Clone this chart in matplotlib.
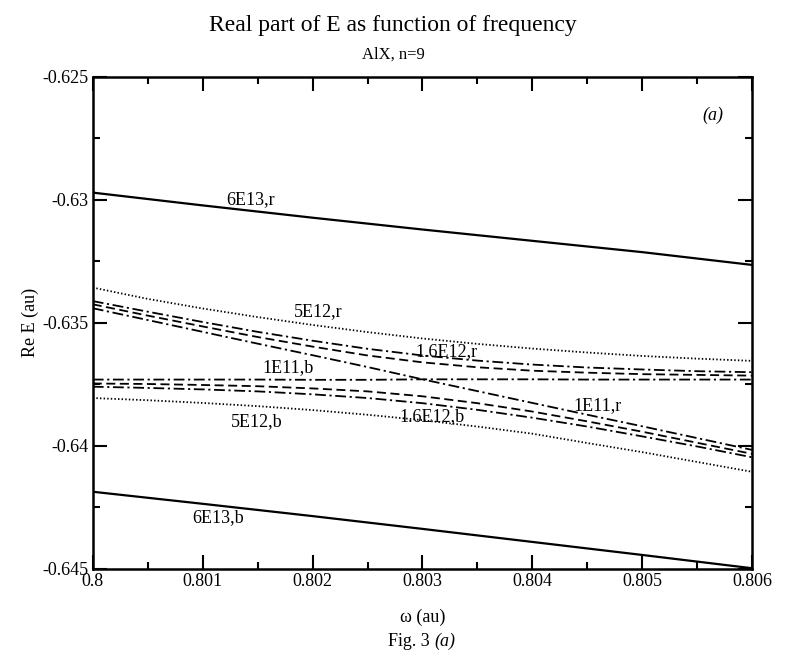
import matplotlib
matplotlib.use("Agg")
import matplotlib.pyplot as plt
from matplotlib.ticker import MultipleLocator, FuncFormatter

plt.rcParams["font.family"] = ["Liberation Serif", "DejaVu Serif"]
plt.rcParams["axes.unicode_minus"] = False

# frequency grids (au)
omega_coarse = [0.800, 0.801, 0.802, 0.803, 0.804, 0.805, 0.806]
omega_fine = [0.8000, 0.8005, 0.8010, 0.8015, 0.8020, 0.8025, 0.8030,
              0.8035, 0.8040, 0.8045, 0.8050, 0.8055, 0.8060]

# Re E (au)
e_6e13_r = [-0.62970, -0.63022, -0.63072, -0.63120, -0.63166, -0.63212, -0.63264]
e_6e13_b = [-0.64186, -0.64235, -0.64285, -0.64337, -0.64390, -0.64443, -0.64497]

e_5e12_r = [-0.63356, -0.63402, -0.63441, -0.63476, -0.63508, -0.63537, -0.63563,
            -0.63585, -0.63604, -0.63620, -0.63634, -0.63645, -0.63654]
e_5e12_b = [-0.63805, -0.63814, -0.63825, -0.63838, -0.63854, -0.63873, -0.63895,
            -0.63921, -0.63950, -0.63988, -0.64025, -0.64065, -0.64105]

e_16e12_r = [-0.63411, -0.63454, -0.63496, -0.63536, -0.63572, -0.63605, -0.63632,
             -0.63653, -0.63669, -0.63681, -0.63689, -0.63696, -0.63700]
e_16e12_b = [-0.63759, -0.63764, -0.63770, -0.63778, -0.63790, -0.63805, -0.63826,
             -0.63853, -0.63885, -0.63921, -0.63961, -0.64002, -0.64046]

e_mid_r = [-0.63424, -0.63470, -0.63514, -0.63557, -0.63596, -0.63632, -0.63660,
           -0.63680, -0.63694, -0.63702, -0.63708, -0.63711, -0.63714]
e_mid_b = [-0.63746, -0.63748, -0.63752, -0.63757, -0.63766, -0.63778, -0.63798,
           -0.63826, -0.63860, -0.63900, -0.63942, -0.63987, -0.64032]

e_1e11_r = [-0.63440, -0.63488, -0.63536, -0.63584, -0.63631, -0.63679, -0.63729,
            -0.63777, -0.63825, -0.63873, -0.63920, -0.63968, -0.64016]
e_1e11_b = [-0.63730, -0.63730, -0.63730, -0.63730, -0.63731, -0.63731, -0.63729,
            -0.63729, -0.63729, -0.63730, -0.63730, -0.63730, -0.63730]

# curve labels: text, omega, Re E
curve_labels = [("6E13,r", 0.80144, -0.63000),
                ("5E12,r", 0.80205, -0.63453),
                ("1.6E12,r", 0.80322, -0.63616),
                ("1E11,b", 0.80178, -0.63681),
                ("1E11,r", 0.80459, -0.63835),
                ("5E12,b", 0.80149, -0.63900),
                ("1.6E12,b", 0.80309, -0.63879),
                ("6E13,b", 0.80114, -0.64291)]

fig = plt.figure(figsize=(7.86, 6.62), dpi=100)
ax = fig.add_axes([0.118, 0.1405, 0.839, 0.7432])

solid = dict(color="black", lw=1.6, ls="-")
dotted = dict(color="black", lw=1.3, ls=(0, (0.8, 1.2)))
dashed = dict(color="black", lw=1.3, ls=(0, (5, 2.5)))
dashdot = dict(color="black", lw=1.3, ls=(0, (6, 2, 1.2, 2)))

ax.plot(omega_coarse, e_6e13_r, **solid)
ax.plot(omega_coarse, e_6e13_b, **solid)
ax.plot(omega_fine, e_5e12_r, **dotted)
ax.plot(omega_fine, e_5e12_b, **dotted)
ax.plot(omega_fine, e_16e12_r, **dashdot)
ax.plot(omega_fine, e_16e12_b, **dashdot)
ax.plot(omega_fine, e_mid_r, **dashed)
ax.plot(omega_fine, e_mid_b, **dashed)
ax.plot(omega_fine, e_1e11_r, **dashdot)
ax.plot(omega_fine, e_1e11_b, **dashdot)

for txt, xx, yy in curve_labels:
    ax.text(xx, yy, txt, ha="center", va="center", fontsize=13)
ax.text(0.80564, -0.62654, "(a)", style="italic", ha="center", va="center", fontsize=13)

ax.set_xlim(0.8, 0.806)
ax.set_ylim(-0.645, -0.625)
ax.xaxis.set_major_locator(MultipleLocator(0.001))
ax.xaxis.set_minor_locator(MultipleLocator(0.0005))
ax.yaxis.set_major_locator(MultipleLocator(0.005))
ax.yaxis.set_minor_locator(MultipleLocator(0.0025))
fmt = FuncFormatter(lambda v, p: "%g" % round(v, 6))
ax.xaxis.set_major_formatter(fmt)
ax.yaxis.set_major_formatter(fmt)
ax.tick_params(which="both", direction="in", top=True, right=True, width=1.5)
ax.tick_params(which="major", length=10, labelsize=13, pad=3)
ax.tick_params(which="minor", length=5)
for sp in ax.spines.values():
    sp.set_linewidth(1.8)

fig.text(0.5, 1 - 25 / 662, "Real part of E as function of frequency", ha="center", va="center", fontsize=17)
fig.text(0.5, 1 - 55 / 662, "AlX, n=9", ha="center", va="center", fontsize=12)
fig.text(0.538, 1 - 617 / 662, "\u03c9 (au)", ha="center", va="center", fontsize=13)
fig.text(0.553, 1 - 641 / 662, "Fig. 3 ", ha="right", va="center", fontsize=13)
fig.text(0.553, 1 - 641 / 662, "(a)", style="italic", ha="left", va="center", fontsize=13)
fig.text(30 / 786, 1 - 322 / 662, "Re E (au)", rotation=90, ha="center", va="center", fontsize=13)

fig.savefig("out.png", dpi=100)
